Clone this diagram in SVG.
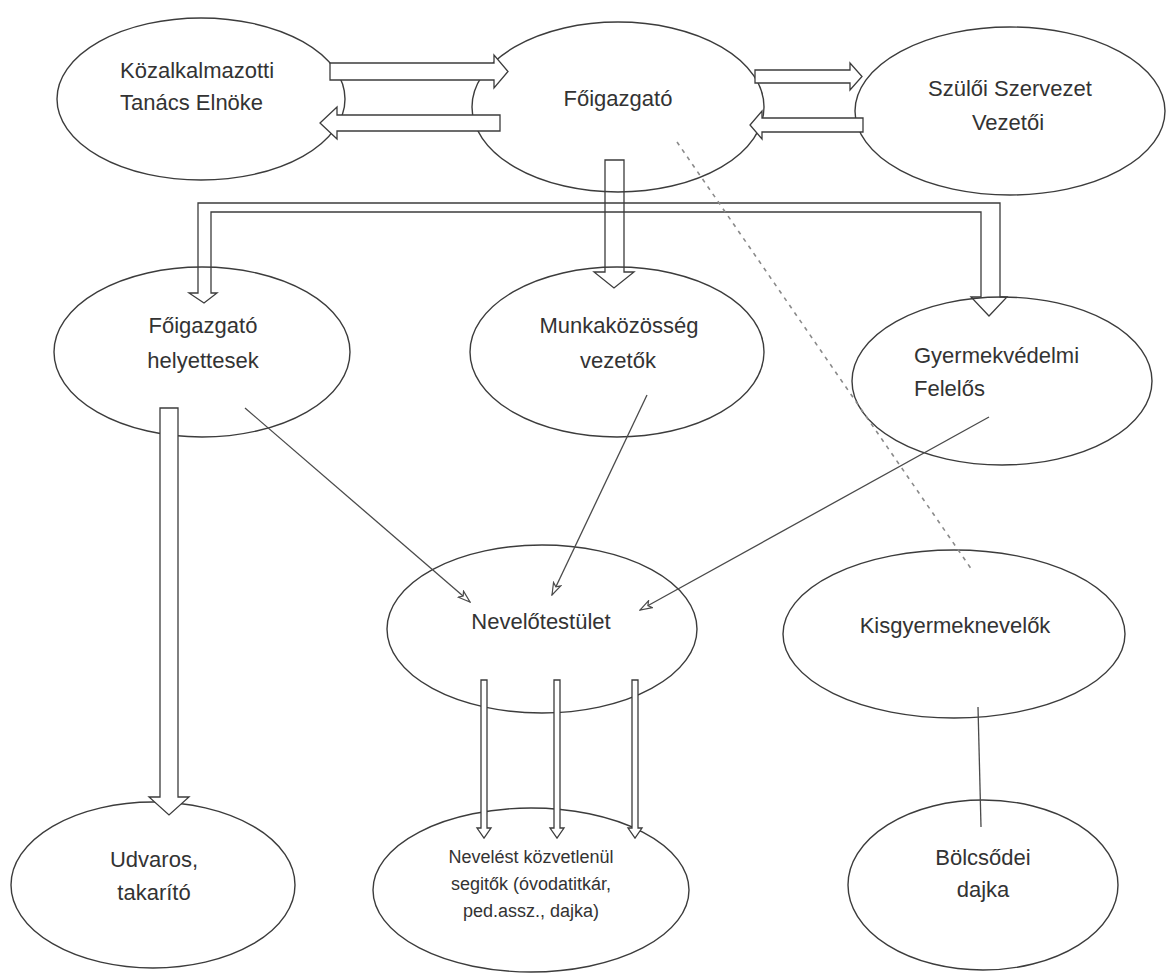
<svg xmlns="http://www.w3.org/2000/svg" width="1168" height="974" viewBox="0 0 1168 974">
<defs>
<style>
.node ellipse{fill:#fff;stroke:#3c3c3c;stroke-width:1.4}
.node text{font-family:"Liberation Sans",Arial,sans-serif;font-size:22px;fill:#333}
.c{text-anchor:middle}
.small{font-size:18px !important}
.blk{fill:#fff;stroke:#3c3c3c;stroke-width:1.3}
.blkn{fill:none;stroke:#3c3c3c;stroke-width:1.3}
.thin{fill:none;stroke:#4a4a4a;stroke-width:1.3}
.dash{fill:none;stroke:#8a8a8a;stroke-width:1.6;stroke-dasharray:4 5}
</style>
<marker id="ah" viewBox="0 0 14 10" refX="13" refY="5" markerWidth="14" markerHeight="10" markerUnits="userSpaceOnUse" orient="auto">
<path d="M1,1 L13,5 L1,9 L4,5 Z" fill="#fff" stroke="#4a4a4a" stroke-width="1.2"/>
</marker>
</defs>
<rect width="1168" height="974" fill="#fff"/>

<g id="kozalkalmazotti" class="node">
<ellipse cx="201" cy="99" rx="144" ry="81"/>
<text x="120" y="78">Közalkalmazotti</text>
<text x="120" y="110">Tanács Elnöke</text>
</g>
<g id="foigazgato" class="node">
<ellipse cx="618" cy="107" rx="146" ry="85"/>
<text class="c" x="618" y="106">Főigazgató</text>
</g>
<g id="szuloi" class="node">
<ellipse cx="1010" cy="111" rx="155" ry="84"/>
<text class="c" x="1010" y="96">Szülői Szervezet</text>
<text class="c" x="1008" y="130">Vezetői</text>
</g>
<g id="helyettesek" class="node">
<ellipse cx="202" cy="352" rx="148" ry="85"/>
<text class="c" x="203" y="333">Főigazgató</text>
<text class="c" x="203" y="368">helyettesek</text>
</g>
<g id="munkakozosseg" class="node">
<ellipse cx="617" cy="352" rx="147" ry="85"/>
<text class="c" x="619" y="333">Munkaközösség</text>
<text class="c" x="618" y="368">vezetők</text>
</g>
<g id="gyermekvedelmi" class="node">
<ellipse cx="1002" cy="381" rx="150" ry="84"/>
<text x="914" y="363">Gyermekvédelmi</text>
<text x="914" y="396">Felelős</text>
</g>
<g id="nevelotestulet" class="node">
<ellipse cx="542" cy="629" rx="155" ry="84"/>
<text class="c" x="541" y="629">Nevelőtestület</text>
</g>
<g id="kisgyermeknevelok" class="node">
<ellipse cx="954" cy="634" rx="171" ry="84"/>
<text class="c" x="955" y="633">Kisgyermeknevelők</text>
</g>
<g id="udvaros" class="node">
<ellipse cx="153" cy="885" rx="142" ry="83"/>
<text class="c" x="154" y="867">Udvaros,</text>
<text class="c" x="154" y="900">takarító</text>
</g>
<g id="segitok" class="node">
<ellipse cx="531" cy="890" rx="158" ry="82"/>
<text class="c small" x="531" y="863">Nevelést közvetlenül</text>
<text class="c small" x="531" y="890">segitők (óvodatitkár,</text>
<text class="c small" x="531" y="917">ped.assz., dajka)</text>
</g>
<g id="bolcsodei" class="node">
<ellipse cx="983" cy="885" rx="135" ry="85"/>
<text class="c" x="983" y="865">Bölcsődei</text>
<text class="c" x="983" y="897">dajka</text>
</g>

<g id="connectors">
<path class="blk" d="M330,63 H494 V55 L508,71.5 L494,88 V80 H330 Z"/>
<path class="blk" d="M500,115 H337 V107 L320,123 L337,139 V131 H500 Z"/>
<path class="blk" d="M755,70 H850 V63 L862,76.5 L850,90 V83 H755 Z"/>
<path class="blk" d="M863,118 H762 V111 L750,125 L762,139 V132 H863 Z"/>
<path class="blkn" d="M198,203 H1000 V297 H1007 L989,316 L971,297 H981 V212 H211 V293 H217 L204,303 L189,293 H198 Z"/>
<path class="blkn" d="M605,160 H624 V272 H634 L614,288 L594,272 H605 Z"/>
<path class="dash" d="M677,142 L972,570"/>
<path class="blk" d="M160,408 H178 V797 H189 L169,815 L149,797 H160 Z"/>
<path class="thin" d="M245,408 L470,602" marker-end="url(#ah)"/>
<path class="thin" d="M647,395 L552,595" marker-end="url(#ah)"/>
<path class="thin" d="M989,417 L640,610" marker-end="url(#ah)"/>
<path class="blk" d="M481,680 H487 V828 H491 L484,838 L477,828 H481 Z"/>
<path class="blk" d="M554,680 H560 V828 H564 L557,838 L550,828 H554 Z"/>
<path class="blk" d="M632,680 H638 V828 H642 L635,838 L628,828 H632 Z"/>
<path class="thin" d="M978,707 L981,827"/>
</g>
</svg>
